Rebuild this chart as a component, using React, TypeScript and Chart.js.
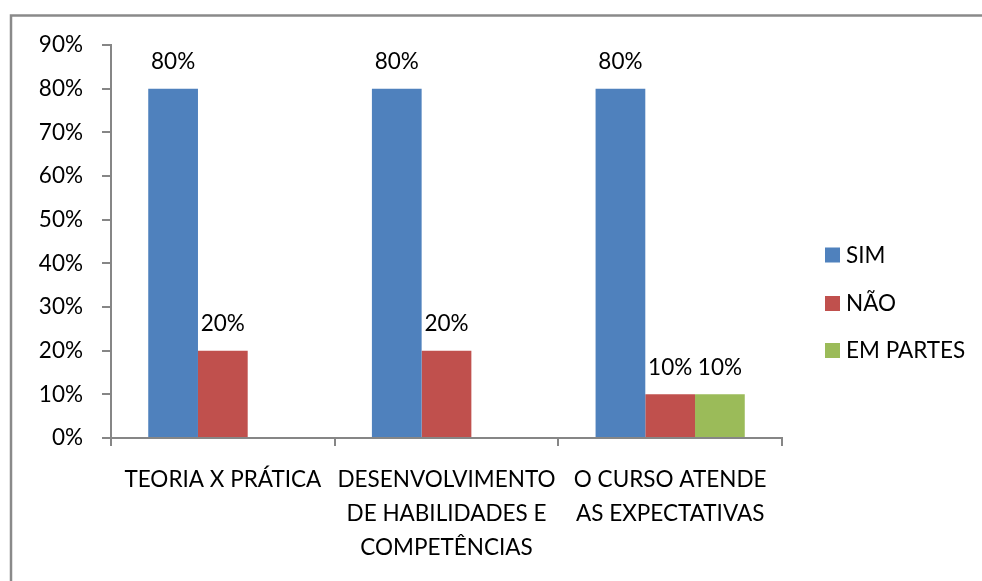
import React, { useEffect, useRef } from "react";
import { Chart, registerables } from "chart.js";

Chart.register(...registerables);

const categories: string[][] = [
  ["TEORIA X PRÁTICA"],
  ["DESENVOLVIMENTO", "DE HABILIDADES E", "COMPETÊNCIAS"],
  ["O CURSO ATENDE", "AS EXPECTATIVAS"],
];
const simValues: (number | null)[] = [80, 80, 80];
const naoValues: (number | null)[] = [20, 20, 10];
const emPartesValues: (number | null)[] = [null, null, 10];
const seriesNames = ["SIM", "NÃO", "EM PARTES"];
const seriesColors = ["#4F81BD", "#C0504D", "#9BBB59"];
const yTicks = [0, 10, 20, 30, 40, 50, 60, 70, 80, 90];

const FONT = "Lato, 'Open Sans', sans-serif";
const FS = 22.5;
const AXIS = "#868686";

export default function App() {
  const ref = useRef<HTMLCanvasElement>(null);
  useEffect(() => {
    if (!ref.current) return;
    const labelPlugin = {
      id: "valueLabels",
      afterDatasetsDraw(chart: any) {
        const ctx = chart.ctx;
        ctx.save();
        ctx.font = `${FS}px ${FONT}`;
        ctx.fillStyle = "#000";
        ctx.textAlign = "center";
        ctx.textBaseline = "middle";
        chart.data.datasets.forEach((ds: any, i: number) => {
          const meta = chart.getDatasetMeta(i);
          meta.data.forEach((bar: any, j: number) => {
            const v = ds.data[j];
            if (v === null || v === undefined) return;
            ctx.fillText(v + "%", bar.x, bar.y - 27);
          });
        });
        ctx.restore();
      },
    };
    const framePlugin = {
      id: "frameLegend",
      beforeDraw(chart: any) {
        const ctx = chart.ctx;
        ctx.save();
        ctx.fillStyle = "#fff";
        ctx.fillRect(0, 0, chart.width, chart.height);
        ctx.strokeStyle = "#8a8a8a";
        ctx.lineWidth = 2.5;
        ctx.strokeRect(11, 15.5, chart.width + 20, chart.height + 20);
        ctx.restore();
      },
      afterDraw(chart: any) {
        const ctx = chart.ctx;
        ctx.save();
        ctx.font = `${FS}px ${FONT}`;
        ctx.textBaseline = "middle";
        ctx.textAlign = "left";
        const ys = [254.5, 303, 350];
        chart.data.datasets.forEach((ds: any, i: number) => {
          ctx.fillStyle = ds.backgroundColor;
          ctx.fillRect(825, ys[i] - 7, 15, 15);
          ctx.fillStyle = "#000";
          ctx.fillText(ds.label, 846, ys[i] + 1);
        });
        ctx.restore();
      },
    };
    const chart = new Chart(ref.current, {
      type: "bar",
      data: {
        labels: categories,
        datasets: [
          { label: seriesNames[0], data: simValues, backgroundColor: seriesColors[0] },
          { label: seriesNames[1], data: naoValues, backgroundColor: seriesColors[1] },
          { label: seriesNames[2], data: emPartesValues, backgroundColor: seriesColors[2] },
        ],
      },
      options: {
        animation: false,
        responsive: false,
        maintainAspectRatio: false,
        layout: { padding: { left: 0, top: 45, right: 200, bottom: 0 } },
        datasets: { bar: { categoryPercentage: 0.667, barPercentage: 1 } },
        plugins: {
          legend: { display: false },
          tooltip: { enabled: false },
        },
        scales: {
          x: {
            grid: {
              display: true,
              offset: true,
              drawOnChartArea: false,
              drawTicks: true,
              tickLength: 8,
              color: AXIS,
              lineWidth: 2,
            },
            border: { display: true, color: AXIS, width: 2 },
            ticks: {
              color: "#000",
              font: { family: FONT, size: FS, lineHeight: "34px" },
              maxRotation: 0,
              minRotation: 0,
              autoSkip: false,
              padding: 17,
            },
            afterFit(scale: any) {
              scale.height = 581 - 438;
            },
          },
          y: {
            min: 0,
            max: 90,
            afterBuildTicks(scale: any) {
              scale.ticks = yTicks.map((v) => ({ value: v }));
            },
            grid: {
              display: true,
              drawOnChartArea: false,
              drawTicks: true,
              tickLength: 9,
              color: AXIS,
              lineWidth: 2,
            },
            border: { display: true, color: AXIS, width: 2 },
            ticks: {
              color: "#000",
              font: { family: FONT, size: FS },
              padding: 19,
              callback: (v: any) => v + "%",
            },
            afterFit(scale: any) {
              scale.width = 111;
            },
          },
        },
      },
      plugins: [labelPlugin, framePlugin],
    });
    return () => chart.destroy();
  }, []);
  return (
    <div style={{ position: "fixed", left: 0, top: 0, width: 982, height: 581, background: "#fff" }}>
      <canvas ref={ref} width={982} height={581} style={{ display: "block" }} />
    </div>
  );
}
